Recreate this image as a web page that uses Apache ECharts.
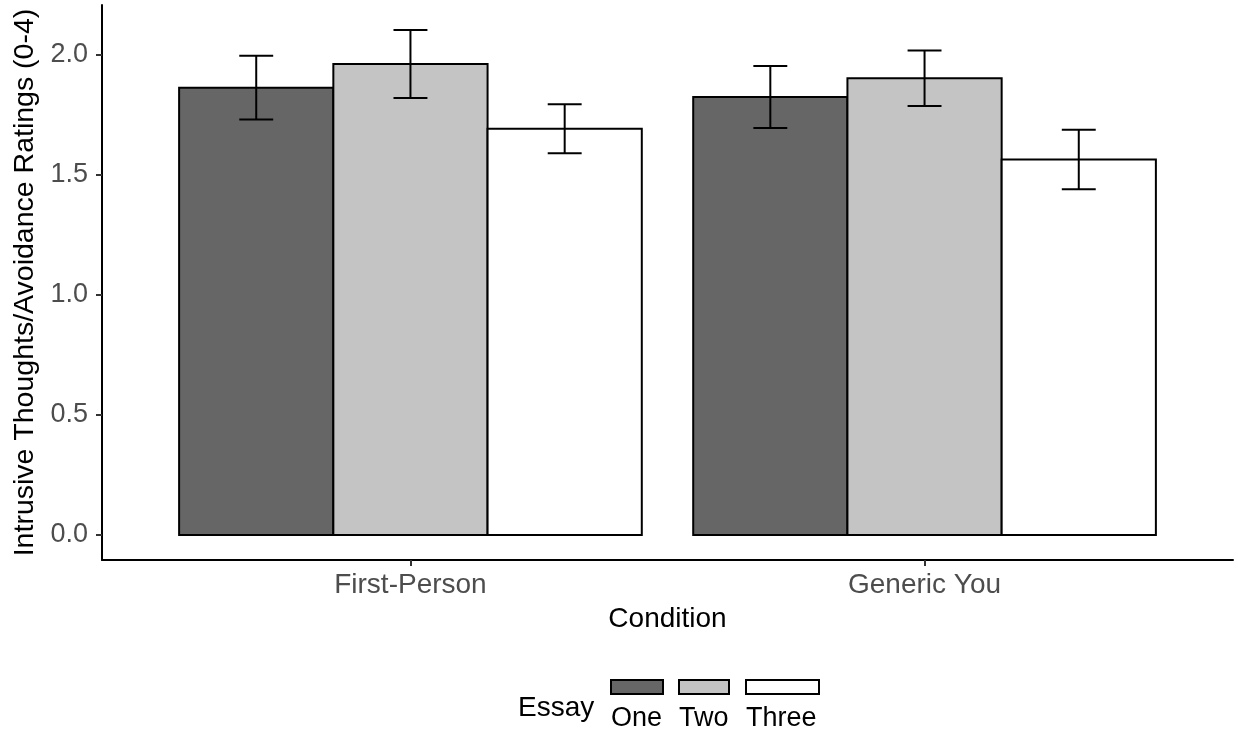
<!DOCTYPE html>
<html>
<head>
<meta charset="utf-8">
<style>html,body{margin:0;padding:0;background:#fff;}#chart{width:1238px;height:736px;}</style>
<script src="https://cdn.jsdelivr.net/npm/echarts@6/dist/echarts.min.js"></script>
</head>
<body>
<div id="chart"></div>
<script>
// ---- data ----
const conditions = ['First-Person', 'Generic You'];
const essays = ['One', 'Two', 'Three'];
const meanOne = [1.864, 1.825];
const seOne = [0.133, 0.129];
const meanTwo = [1.9625, 1.903];
const seTwo = [0.142, 0.116];
const meanThree = [1.693, 1.565];
const seThree = [0.102, 0.124];
const yTicks = [0, 0.5, 1.0, 1.5, 2.0];

// ---- style ----
const FONT = 'Liberation Sans';
const fills = ['#666666', '#C4C4C4', '#FFFFFF'];
const dodge = 0.3;      // bar width in category units (0.9 / 3)
const capHalf = 0.033;  // half error-bar cap width in category units

const means = [meanOne, meanTwo, meanThree];
const ses = [seOne, seTwo, seThree];

function makeSeries(k) {
  const offset = (k - 1) * dodge;
  return {
    type: 'custom',
    name: essays[k],
    itemStyle: { color: fills[k], borderColor: '#000', borderWidth: 2 },
    data: conditions.map((c, i) => [i + 1, means[k][i], ses[k][i]]),
    encode: { x: 0, y: 1 },
    renderItem: function (params, api) {
      const cx = api.value(0) + offset;
      const m = api.value(1);
      const se = api.value(2);
      const pTL = api.coord([cx - dodge / 2, m]);
      const pBR = api.coord([cx + dodge / 2, 0]);
      const top = api.coord([cx, m + se]);
      const bot = api.coord([cx, m - se]);
      const capL = api.coord([cx - capHalf, m]);
      const capR = api.coord([cx + capHalf, m]);
      const lineStyle = { stroke: '#000', lineWidth: 2, fill: null };
      return {
        type: 'group',
        children: [
          {
            type: 'rect',
            shape: { x: pTL[0], y: pTL[1], width: pBR[0] - pTL[0], height: pBR[1] - pTL[1] },
            style: { fill: fills[k], stroke: '#000', lineWidth: 2 }
          },
          { type: 'line', shape: { x1: top[0], y1: top[1], x2: bot[0], y2: bot[1] }, style: lineStyle },
          { type: 'line', shape: { x1: capL[0], y1: top[1], x2: capR[0], y2: top[1] }, style: lineStyle },
          { type: 'line', shape: { x1: capL[0], y1: bot[1], x2: capR[0], y2: bot[1] }, style: lineStyle }
        ]
      };
    }
  };
}

const swatchLeft = [610, 678, 745];
const swatchWidth = [52, 50, 73];
const labelLeft = [606, 674, 741];

const legends = [];
essays.forEach((e, k) => {
  legends.push({
    data: [{ name: e, icon: 'rect', itemStyle: { color: fills[k], borderColor: '#000', borderWidth: 2 } }],
    left: swatchLeft[k], top: 679, padding: 0,
    itemWidth: swatchWidth[k], itemHeight: 14,
    selectedMode: false,
    formatter: function () { return ''; },
    textStyle: { fontSize: 1 }
  });
  legends.push({
    data: [{ name: e, icon: 'none' }],
    left: labelLeft[k], top: 704, padding: 0,
    itemWidth: 0, itemHeight: 30,
    selectedMode: false,
    textStyle: { fontFamily: FONT, fontSize: 27, color: '#000' }
  });
});

const chart = echarts.init(document.getElementById('chart'), null, { renderer: 'canvas' });
chart.setOption({
  backgroundColor: '#fff',
  animation: false,
  title: {
    text: 'Essay', left: 518, top: 694, padding: 0,
    textStyle: { fontFamily: FONT, fontSize: 28, fontWeight: 'normal', color: '#000' }
  },
  legend: legends,
  grid: { left: 102, right: 5, top: 5, bottom: 176, containLabel: false },
  xAxis: {
    type: 'value',
    min: 0.4, max: 2.6,
    splitLine: { show: false },
    axisLine: { show: true, onZero: false, lineStyle: { color: '#000', width: 2 } },
    axisTick: { show: true, customValues: [1, 2], length: 6, lineStyle: { color: '#333', width: 2 } },
    axisLabel: {
      customValues: [1, 2], margin: 11,
      formatter: function (v) { return conditions[Math.round(v) - 1] || ''; },
      fontFamily: FONT, fontSize: 28, color: '#4D4D4D'
    },
    name: 'Condition', nameLocation: 'middle', nameGap: 45,
    nameTextStyle: { fontFamily: FONT, fontSize: 28, color: '#000' }
  },
  yAxis: {
    type: 'value',
    min: -0.1042, max: 2.2083,
    splitLine: { show: false },
    axisLine: { show: true, onZero: false, lineStyle: { color: '#000', width: 2 } },
    axisTick: { show: true, customValues: yTicks, length: 6, lineStyle: { color: '#333', width: 2 } },
    axisLabel: {
      customValues: yTicks, margin: 14,
      formatter: function (v) { return v.toFixed(1); },
      fontFamily: FONT, fontSize: 27, color: '#4D4D4D'
    },
    name: 'Intrusive Thoughts/Avoidance Ratings (0-4)', nameLocation: 'middle', nameGap: 62,
    nameTextStyle: { fontFamily: FONT, fontSize: 28.5, color: '#000' }
  },
  series: [makeSeries(0), makeSeries(1), makeSeries(2)]
});
</script>
</body>
</html>
